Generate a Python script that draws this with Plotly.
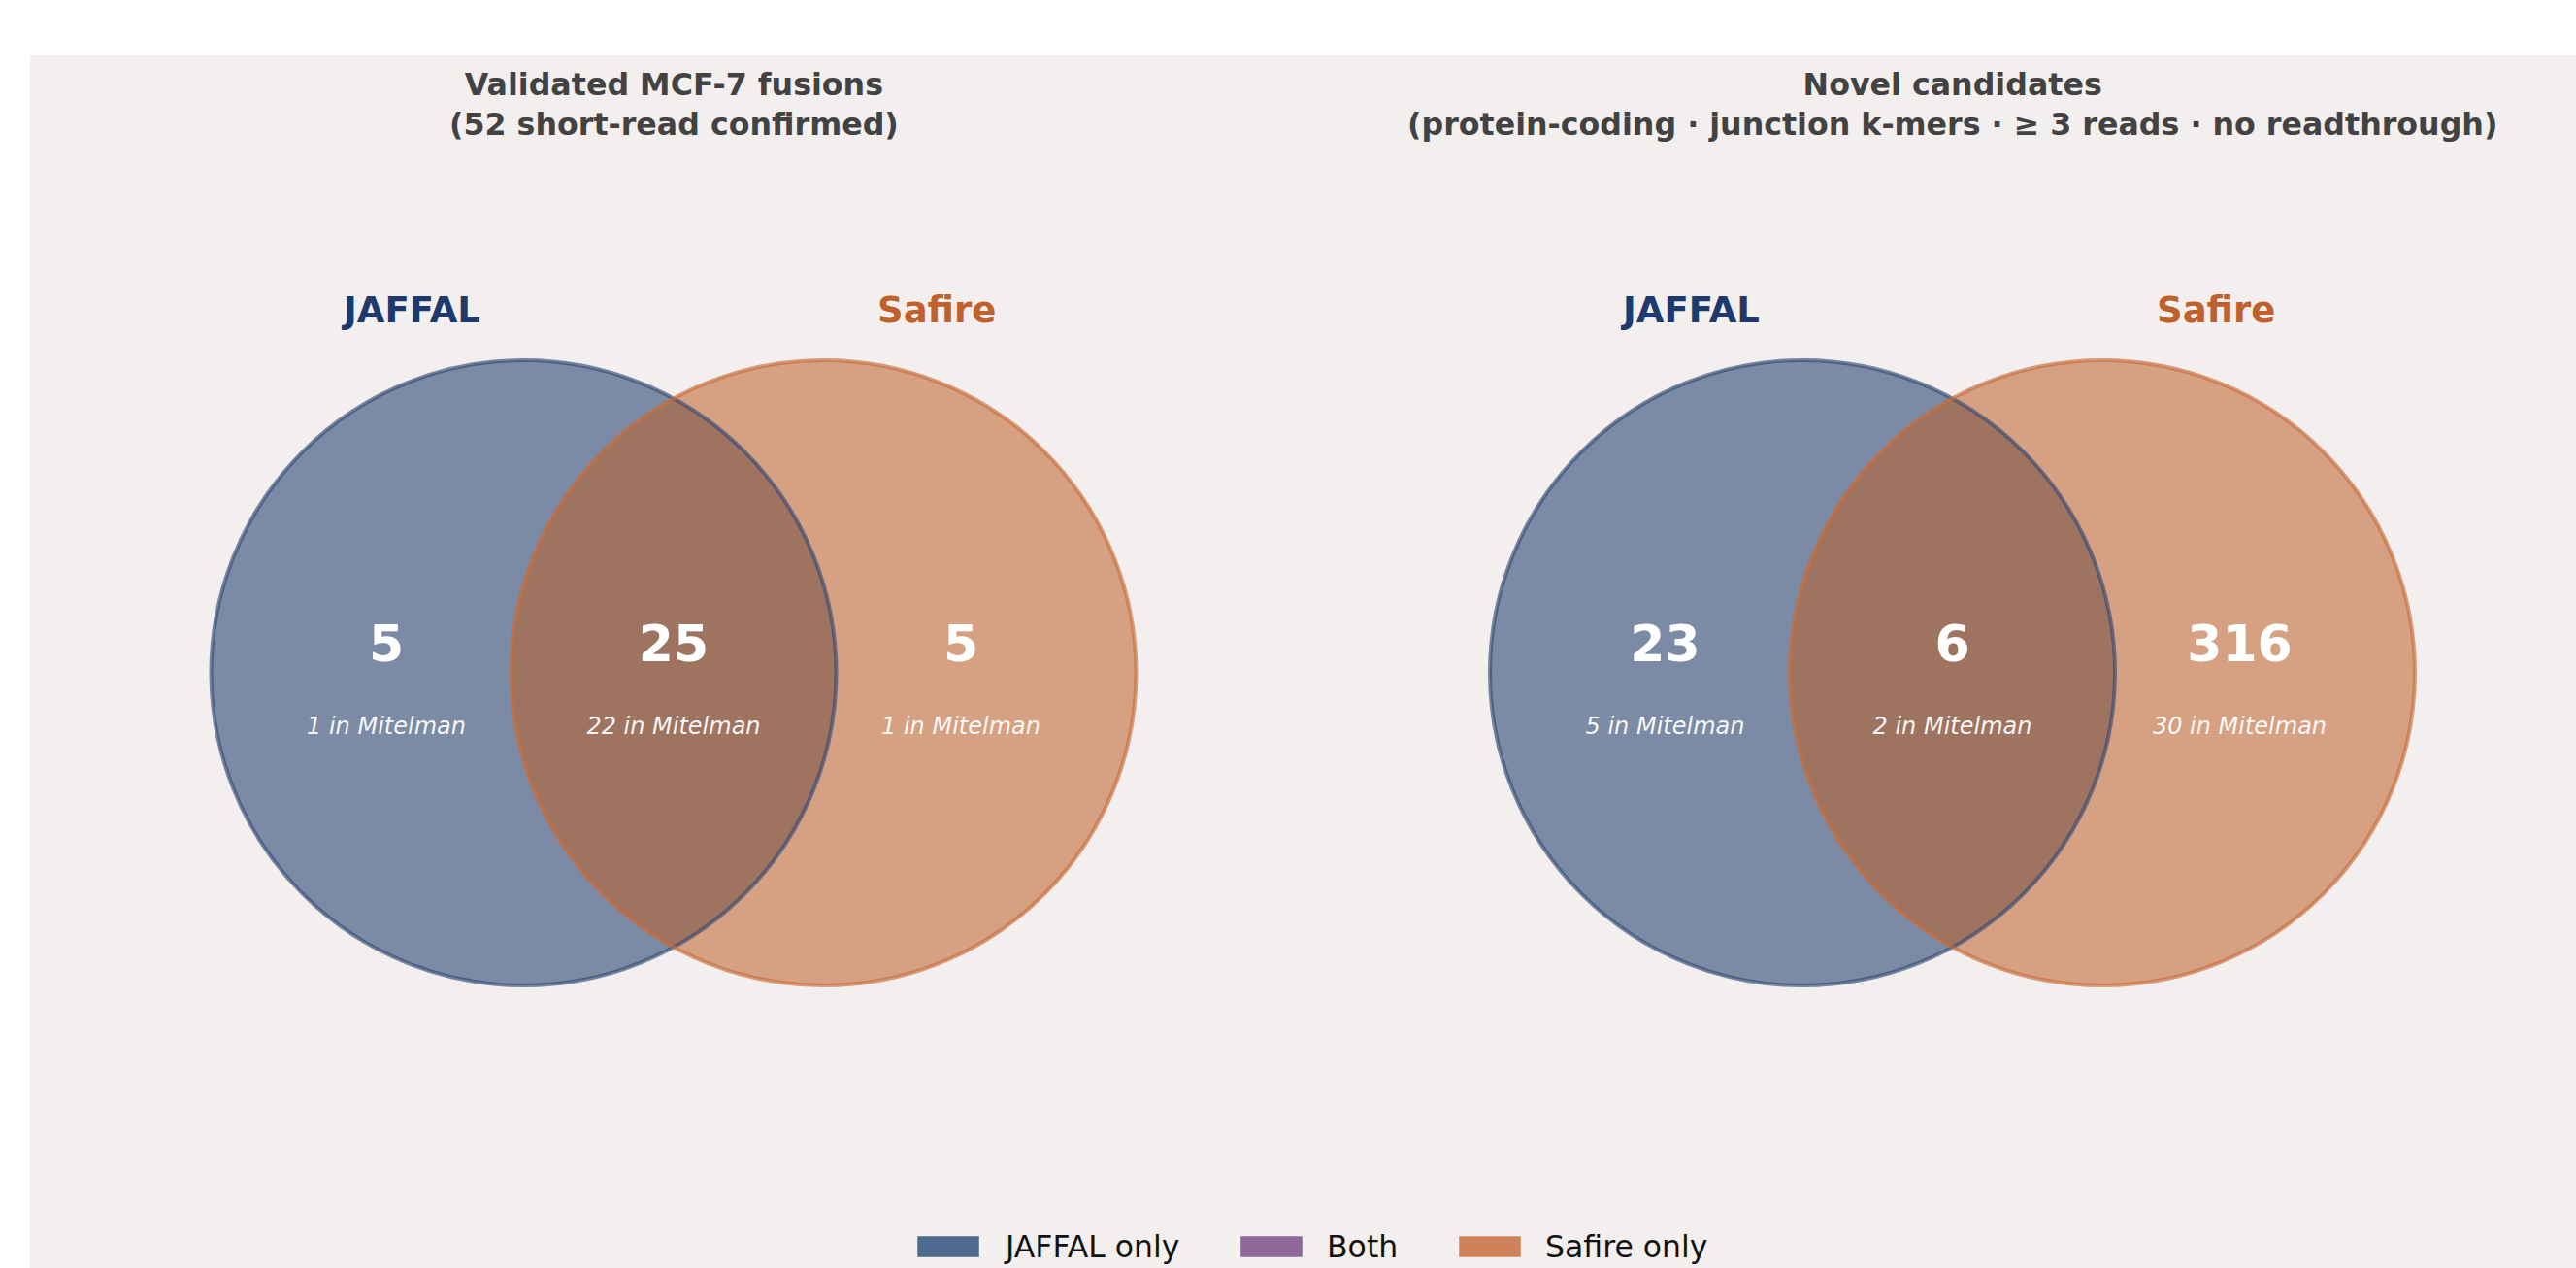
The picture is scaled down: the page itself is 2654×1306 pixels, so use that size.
import numpy as np
import plotly.graph_objects as go

# ---------------- data ----------------
panel_titles = [
    "Validated MCF-7 fusions<br>(52 short-read confirmed)",
    "Novel candidates<br>(protein-coding · junction k-mers · ≥ 3 reads · no readthrough)",
]
set_labels = ["JAFFAL", "Safire"]
jaffal_only = [5, 23]
both = [25, 6]
safire_only = [5, 316]
mitelman_jaffal_only = [1, 5]
mitelman_both = [22, 2]
mitelman_safire_only = [1, 30]
legend_labels = ["JAFFAL only", "Both", "Safire only"]

# ---------------- style / layout ----------------
FONT = "DejaVu Sans"
BG = "#F2EFEE"
C_JAFFAL = "#4E6A8F"
C_BOTH = "#8E6898"
C_SAFIRE = "#CF825A"
FILL_J = "#7B8BA5"
FILL_S = "#D6A082"
FILL_JS = "#9E7460"
LINE_J = "rgba(52,74,115,0.65)"
LINE_S = "rgba(200,108,58,0.65)"
LBL_J = "#1E3A6C"
LBL_S = "#C0602A"

W, H = 2654, 1306
ML, MT = 31, 57
X0, X1 = 31, 2654          # window pixel extents of the plot area
Y0, Y1 = 57, 1306

venn_cx = [694.0, 2011.5]
cy = 693.0
R = 322.0
half_sep = 154.5
region_dx = 296.0
label_dx = 271.0
label_y = 319.0
num_y = 668.0
cap_y = 750.0
title_y = 107.0

fig = go.Figure()
shapes = []
annotations = []


def lens_path(cxa, cxb, cyy, r, n=120):
    d = cxb - cxa
    xm = cxa + d / 2
    h = np.sqrt(r * r - (d / 2) ** 2)
    ang_b = np.arctan2(h, xm - cxb)
    ang_a = np.arctan2(h, xm - cxa)
    tb = np.linspace(ang_b, 2 * np.pi - ang_b, n)
    ta = np.linspace(-ang_a, ang_a, n)
    pts = [(cxb + r * np.cos(t), cyy + r * np.sin(t)) for t in tb]
    pts += [(cxa + r * np.cos(t), cyy + r * np.sin(t)) for t in ta]
    return "M " + " L ".join(f"{x:.2f},{y:.2f}" for x, y in pts) + " Z"


for i, cx in enumerate(venn_cx):
    ca, cb = cx - half_sep, cx + half_sep
    shapes.append(dict(type="circle", xref="x", yref="y", x0=ca - R, x1=ca + R, y0=cy - R, y1=cy + R,
                       fillcolor=FILL_J, line=dict(width=0), layer="below"))
    shapes.append(dict(type="circle", xref="x", yref="y", x0=cb - R, x1=cb + R, y0=cy - R, y1=cy + R,
                       fillcolor=FILL_S, line=dict(width=0), layer="below"))
    shapes.append(dict(type="path", xref="x", yref="y", path=lens_path(ca, cb, cy, R),
                       fillcolor=FILL_JS, line=dict(width=0), layer="below"))
    shapes.append(dict(type="circle", xref="x", yref="y", x0=ca - R, x1=ca + R, y0=cy - R, y1=cy + R,
                       fillcolor="rgba(0,0,0,0)", line=dict(width=4, color=LINE_J), layer="below"))
    shapes.append(dict(type="circle", xref="x", yref="y", x0=cb - R, x1=cb + R, y0=cy - R, y1=cy + R,
                       fillcolor="rgba(0,0,0,0)", line=dict(width=4, color=LINE_S), layer="below"))

    annotations.append(dict(x=cx - label_dx, y=label_y, xref="x", yref="y", text=set_labels[0],
                            showarrow=False, font=dict(family=FONT, size=37, color=LBL_J, weight="bold")))
    annotations.append(dict(x=cx + label_dx, y=label_y, xref="x", yref="y", text=set_labels[1],
                            showarrow=False, font=dict(family=FONT, size=37, color=LBL_S, weight="bold")))
    annotations.append(dict(x=cx, y=title_y, xref="x", yref="y", text=panel_titles[i],
                            showarrow=False, font=dict(family=FONT, size=31.7, color="#424242", weight="bold")))

    xs = [cx - region_dx, cx, cx + region_dx]
    counts = [jaffal_only[i], both[i], safire_only[i]]
    mit = [mitelman_jaffal_only[i], mitelman_both[i], mitelman_safire_only[i]]
    fig.add_trace(go.Scatter(x=xs, y=[num_y] * 3, mode="text", text=[str(c) for c in counts],
                             textposition="middle center", showlegend=False, hoverinfo="skip",
                             textfont=dict(family=FONT, size=52, color="white", weight="bold")))
    fig.add_trace(go.Scatter(x=xs, y=[cap_y] * 3, mode="text", text=[f"{m} in Mitelman" for m in mit],
                             textposition="middle center", showlegend=False, hoverinfo="skip",
                             textfont=dict(family=FONT, size=24, color="rgba(255,255,255,0.95)", style="italic")))

# legend (manual swatches)
leg_colors = [C_JAFFAL, C_BOTH, C_SAFIRE]
leg_x = [945.0, 1278.0, 1503.0]
sw_w, sw_h = 64.0, 22.0
leg_y = 1284.0
for lx, col, lab in zip(leg_x, leg_colors, legend_labels):
    shapes.append(dict(type="rect", xref="x", yref="y", x0=lx, x1=lx + sw_w, y0=leg_y - sw_h / 2,
                       y1=leg_y + sw_h / 2, fillcolor=col, line=dict(width=0.8, color="rgba(255,255,255,0.5)"),
                       layer="below"))
    annotations.append(dict(x=lx + sw_w + 23, y=leg_y, xref="x", yref="y", text=lab, xanchor="left",
                            showarrow=False, font=dict(family=FONT, size=31.5, color="#111111")))

fig.update_layout(
    width=W, height=H,
    margin=dict(l=ML, r=0, t=MT, b=0, pad=0),
    paper_bgcolor="white",
    plot_bgcolor=BG,
    shapes=shapes,
    annotations=annotations,
    showlegend=False,
    hovermode=False,
    xaxis=dict(range=[X0, X1], visible=False, showgrid=False, zeroline=False, fixedrange=True),
    yaxis=dict(range=[Y1, Y0], visible=False, showgrid=False, zeroline=False, fixedrange=True),
)

fig.write_html("out.html", config={"displayModeBar": False},
               post_script="document.body.style.margin='0';document.body.style.overflow='hidden';")
